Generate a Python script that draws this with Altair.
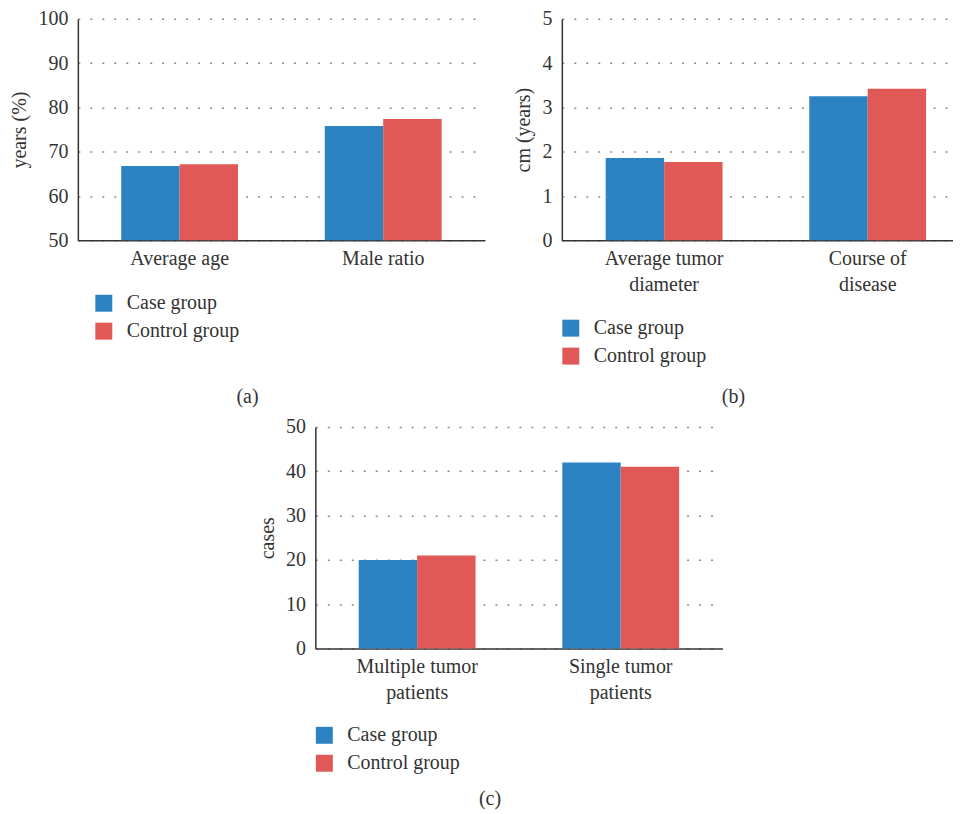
import altair as alt
import pandas as pd

groups = ["Case group", "Control group"]
colors = ["#2d83c2", "#e05957"]

cat_a = ["Average age", "Male ratio"]
case_a = [66.8, 75.8]
ctrl_a = [67.2, 77.4]

cat_b = ["Average tumor diameter", "Course of disease"]
case_b = [1.86, 3.25]
ctrl_b = [1.77, 3.42]

cat_c = ["Multiple tumor patients", "Single tumor patients"]
case_c = [20, 42]
ctrl_c = [21, 41]

FONT = "Liberation Serif"
TXT = "#333333"


def frame(cats, case, ctrl):
    rows = []
    for i, c in enumerate(cats):
        rows.append({"category": c, "group": groups[0], "value": case[i]})
        rows.append({"category": c, "group": groups[1], "value": ctrl[i]})
    return pd.DataFrame(rows)


def panel(cats, case, ctrl, ydom, yticks, ytitle, caption, split, legx, legy,
          capoff, width, pin, pout, align):
    df = frame(cats, case, ctrl)
    xaxis = dict(title=None, labelAngle=0, ticks=False, labelPadding=8,
                 labelLineHeight=26, grid=False)
    if split:
        xaxis["labelExpr"] = (
            "[slice(datum.label, 0, lastindexof(datum.label, ' ')), "
            "slice(datum.label, lastindexof(datum.label, ' ') + 1)]")
    return alt.Chart(df).mark_bar().encode(
        x=alt.X("category:N", sort=cats,
                scale=alt.Scale(paddingInner=pin, paddingOuter=pout, align=align),
                axis=alt.Axis(**xaxis)),
        xOffset=alt.XOffset("group:N", sort=groups,
                            scale=alt.Scale(paddingInner=0, paddingOuter=0)),
        y=alt.Y("value:Q", scale=alt.Scale(domain=ydom, nice=False, zero=False),
                axis=alt.Axis(values=yticks, title=ytitle, grid=True,
                              gridDash=[2, 10], ticks=False, labelPadding=10,
                              titlePadding=8)),
        y2=alt.Y2(datum=ydom[0]),
        color=alt.Color("group:N",
                        scale=alt.Scale(domain=groups, range=colors),
                        legend=alt.Legend(title=None, orient="none",
                                          legendX=legx, legendY=legy,
                                          symbolType="square", symbolSize=289,
                                          symbolStrokeWidth=0,
                                          labelFontSize=20, labelFont=FONT,
                                          labelColor=TXT, rowPadding=8,
                                          labelOffset=13)),
    ).properties(
        width=width, height=222,
        title=alt.TitleParams(text=caption, orient="bottom", anchor="middle",
                              frame="bounds", offset=capoff, fontSize=20,
                              fontWeight="normal", font=FONT, color=TXT),
    )


a = panel(cat_a, case_a, ctrl_a, [50, 100], [50, 60, 70, 80, 90, 100],
          "years (%)", "(a)", False, 16, 275, 46, 408, 0.426, 0.213, 0.5)
b = panel(cat_b, case_b, ctrl_b, [0, 5], [0, 1, 2, 3, 4, 5],
          "cm (years)", "(b)", True, -1, 300, 21, 392, 0.426, 0.1738, 0.62)
c = panel(cat_c, case_c, ctrl_c, [0, 50], [0, 10, 20, 30, 40, 50],
          "cases", "(c)", True, -1, 299, 16, 408, 0.426, 0.213, 0.5)

spacer = alt.Chart(pd.DataFrame({"v": [0]})).mark_rule(opacity=0).encode(
    x=alt.value(0), y=alt.value(0), y2=alt.value(1)
).properties(width=180, height=1)

top = alt.hconcat(a, b, spacing=29).resolve_scale(color="independent")
bottom = alt.hconcat(spacer, c, spacing=0).resolve_scale(color="independent")

chart = alt.vconcat(
    top,
    bottom,
    spacing=10,
).resolve_scale(color="independent").properties(
    padding={"left": 2, "top": 0, "right": 0, "bottom": 0}
).configure_axis(
    labelFont=FONT, titleFont=FONT, labelFontSize=20, titleFontSize=20,
    titleFontWeight="normal", labelColor=TXT, titleColor=TXT,
    domainColor="#333333", domainWidth=1.5, gridColor="#8a8a8a", gridWidth=1.5,
).configure_view(stroke=None)

chart.save("out.html", embed_options={"renderer": "svg", "actions": False})
